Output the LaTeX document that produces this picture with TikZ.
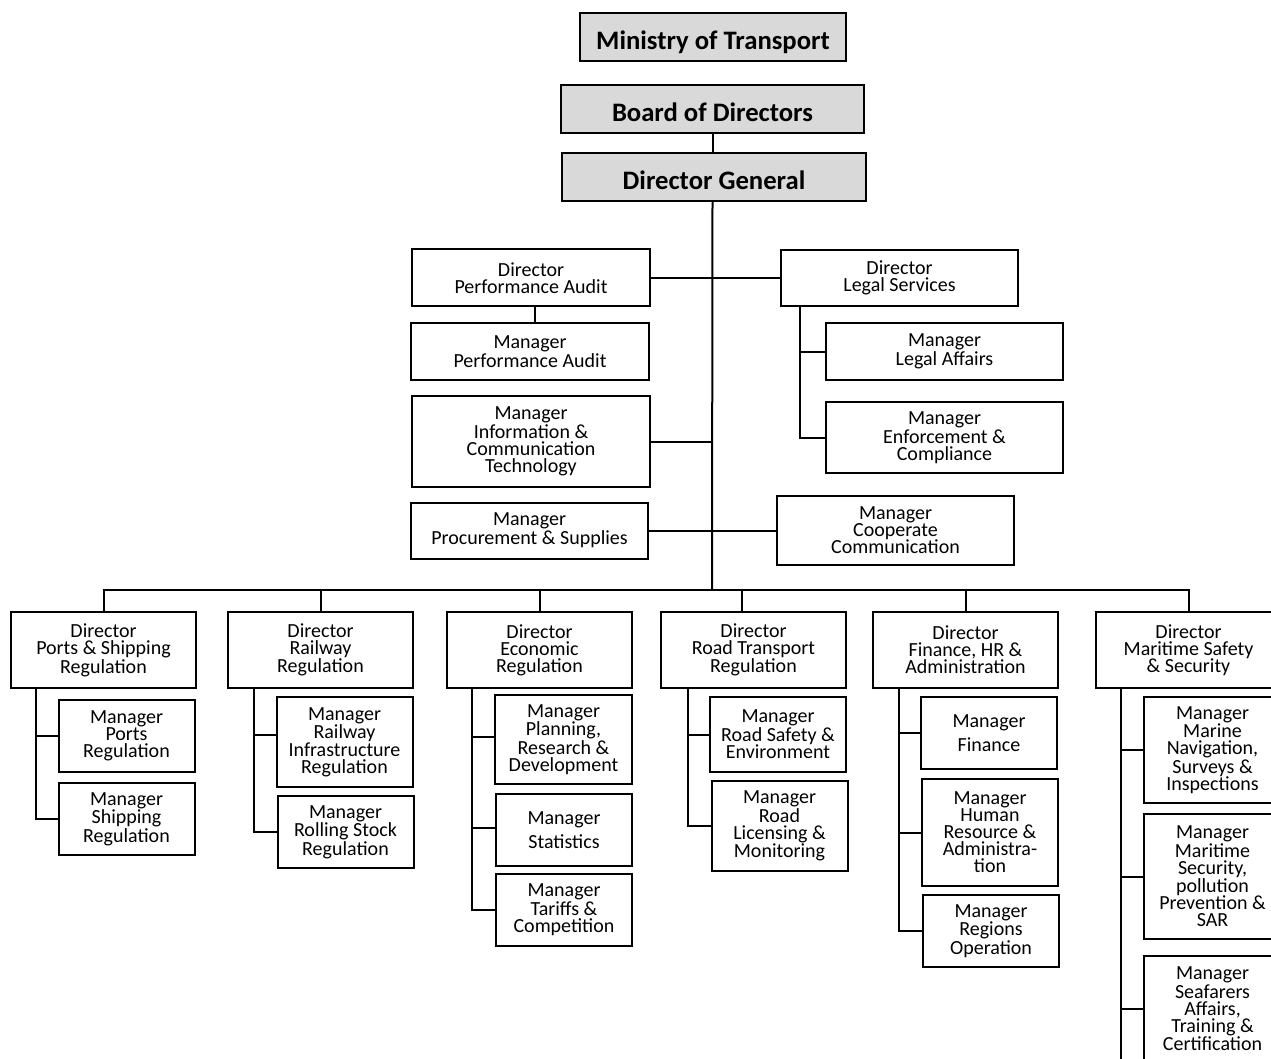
\documentclass[tikz,border=0pt]{standalone}
\usepackage{fontspec}
\setmainfont{Carlito}
% bold titles sit a little below the middle of their boxes
\newcommand{\headtext}[1]{\raisebox{-9.3pt}[0pt][0pt]{#1}}
\begin{document}
\begin{tikzpicture}[x=0.75pt,y=-0.75pt,
  line width=1.5pt,
  box/.style={draw=black, fill=white, align=center, inner sep=1pt,
    font=\fontsize{15pt}{12.8pt}\selectfont},
  headbox/.style={draw=black, fill=headgray, align=center, inner sep=1pt,
    font=\fontsize{20pt}{24pt}\selectfont\bfseries},
  dirbox/.style={box, minimum width=138.75pt, minimum height=57pt},
  mgrbox/.style={box, minimum width=102pt},
  link/.style={draw=black, line width=1.5pt}]
\definecolor{headgray}{HTML}{D9D9D9}
\useasboundingbox (0,0) rectangle (1271,1059);
\fill[white] (0,0) rectangle (1271,1059);
\clip (0,0) rectangle (1271,1059);

% ---- top of the hierarchy ----
\node[headbox, minimum width=199.5pt, minimum height=36pt] (ministry) at (713,37) {\headtext{Ministry of Transport}};
\node[headbox, minimum width=227.25pt, minimum height=36pt] (board) at (712.5,109) {\headtext{Board of Directors}};
\node[headbox, minimum width=228pt, minimum height=36pt] (dg) at (714,177) {\headtext{Director General}};

% ---- staff units around the trunk ----
\node[box, minimum width=178.5pt, minimum height=42.75pt] (dpa) at (531,278) {Director\\Performance Audit};
\node[box, minimum width=178.5pt, minimum height=42.75pt] (mpa) at (530,351.5) {Manager\\Performance Audit};
\node[box, minimum width=178.5pt, minimum height=68.25pt] (ict) at (531,441.5) {Manager\\Information \&\\Communication\\Technology};
\node[box, minimum width=177.75pt, minimum height=42pt] (proc) at (529.5,530.5) {Manager\\Procurement \& Supplies};
\node[box, minimum width=177.75pt, minimum height=42pt] (dls) at (899.5,278) {Director\\Legal Services};
\node[box, minimum width=177.75pt, minimum height=42.75pt] (legal) at (944.5,351.5) {Manager\\Legal Affairs};
\node[box, minimum width=177.75pt, minimum height=53.25pt] (enf) at (944.5,437.5) {Manager\\Enforcement \&\\Compliance};
\node[box, minimum width=177.75pt, minimum height=51.75pt] (coop) at (895.5,530.5) {Manager\\Cooperate\\Communication};

% ---- directorates ----
\node[dirbox] (ports) at (103.5,650) {Director\\Ports \& Shipping\\Regulation};
\node[dirbox] (rail) at (320.5,650) {Director\\Railway\\Regulation};
\node[dirbox] (econ) at (539.5,650) {Director\\Economic\\Regulation};
\node[dirbox] (road) at (753.5,650) {Director\\Road Transport\\Regulation};
\node[dirbox] (fin) at (965.5,650) {Director\\Finance, HR \&\\Administration};
\node[dirbox] (mar) at (1188.5,650) {Director\\Maritime Safety\\\& Security};

% ---- managers ----
\node[mgrbox, minimum height=54pt] (mports) at (126.5,736) {Manager\\Ports\\Regulation};
\node[mgrbox, minimum height=54pt] (mship) at (126.5,819) {Manager\\Shipping\\Regulation};

\node[mgrbox, minimum height=67.5pt] (mrinf) at (344.5,742) {Manager\\Railway\\Infrastructure\\Regulation};
\node[mgrbox, minimum height=54pt] (mroll) at (345.5,832) {Manager\\Rolling Stock\\Regulation};

\node[mgrbox, minimum width=102.75pt, minimum height=66.75pt] (mplan) at (563.5,739.5) {Manager\\Planning,\\Research \&\\Development};
\node[mgrbox, minimum height=54pt] (mstat) at (564,830) {Manager\\[4pt]Statistics};
\node[mgrbox, minimum height=54pt] (mtar) at (564,910) {Manager\\Tariffs \&\\Competition};

\node[mgrbox, minimum height=56.25pt] (msafe) at (778,734.5) {Manager\\Road Safety \&\\Environment};
\node[mgrbox, minimum height=67.5pt] (mlic) at (779.5,826) {Manager\\Road\\Licensing \&\\Monitoring};

\node[mgrbox, minimum height=54pt] (mfin) at (989,733) {Manager\\[4pt]Finance};
\node[mgrbox, minimum height=80.25pt] (mhr) at (990,832.5) {Manager\\Human\\Resource \&\\Administra-\\tion};
\node[mgrbox, minimum height=54pt] (mreg) at (991,931) {Manager\\Regions\\Operation};

\node[mgrbox, minimum width=102.75pt, minimum height=79.5pt] (mnav) at (1212.5,750) {Manager\\Marine\\Navigation,\\Surveys \&\\Inspections};
\node[mgrbox, minimum width=102.75pt, minimum height=93.75pt] (msec) at (1212.5,876.5) {Manager\\Maritime\\Security,\\pollution\\Prevention \&\\SAR};
\node[mgrbox, minimum width=102.75pt, minimum height=79.5pt] (msea) at (1212.5,1009) {Manager\\Seafarers\\Affairs,\\Training \&\\Certification};

% ---- trunk and bus ----
\coordinate (bus) at (712,590);
\draw[link] (board.south) -- (board.south |- dg.north);
\draw[link] (board.south |- dg.south) -- (bus);
\draw[link] (ports.north) |- (mar.north |- bus) -- (mar.north);
\draw[link] (rail.north) -- (rail.north |- bus);
\draw[link] (econ.north) -- (econ.north |- bus);
\draw[link] ([xshift=-8.6pt]road.north) -- ([xshift=-8.6pt]road.north |- bus);
\draw[link] (fin.north) -- (fin.north |- bus);

% ---- staff links ----
\draw[link] (dpa.east) -- (dls.west);
\draw[link] ([xshift=3pt]dpa.south) -- ([xshift=3pt]dpa.south |- mpa.north);
\draw[link] (ict.east) -- (ict.east -| bus);
\draw[link] (proc.east) -- (proc.east -| coop.west);
\coordinate (lv) at ([xshift=15pt]dls.south west);
\draw[link] (lv) |- (enf.west);
\draw[link] (legal.west) -- (legal.west -| lv);

% ---- directorate to manager links ----
\coordinate (pv) at ([xshift=19.5pt]ports.south west);
\draw[link] (pv) |- (mship.west);
\draw[link] (mports.west) -- (mports.west -| pv);

\coordinate (rv) at ([xshift=20.25pt]rail.south west);
\draw[link] (rv) |- (mroll.west);
\draw[link] ([yshift=5.25pt]mrinf.west) -- ([yshift=5.25pt]mrinf.west -| rv);

\coordinate (ev) at ([xshift=19.5pt]econ.south west);
\draw[link] (ev) |- (mtar.west);
\draw[link] ([yshift=1.8pt]mplan.west) -- ([yshift=1.8pt]mplan.west -| ev);
\draw[link] ([yshift=1.5pt]mstat.west) -- ([yshift=1.5pt]mstat.west -| ev);

\coordinate (dv) at ([xshift=21pt]road.south west);
\draw[link] (dv) |- (mlic.west);
\draw[link] (msafe.west) -- (msafe.west -| dv);

\coordinate (fv) at ([xshift=20.25pt]fin.south west);
\draw[link] (fv) |- (mreg.west);
\draw[link] (mfin.west) -- (mfin.west -| fv);
\draw[link] (mhr.west) -- (mhr.west -| fv);

\coordinate (mv) at ([xshift=19.5pt]mar.south west);
\draw[link] (mv) -- (mv |- 0,1059);
\draw[link] (mnav.west) -- (mnav.west -| mv);
\draw[link] (msec.west) -- (msec.west -| mv);
\draw[link] (msea.west) -- (msea.west -| mv);
\end{tikzpicture}
\end{document}
